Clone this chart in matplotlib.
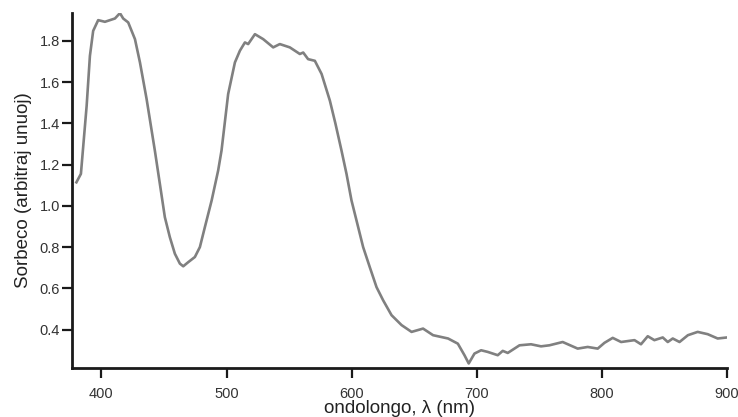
import numpy as np
import matplotlib
matplotlib.use('Agg')
import matplotlib.pyplot as plt

plt.rcParams['font.family'] = ['Liberation Sans', 'DejaVu Sans']

# ondolongo (nm) kaj sorbeco, legitaj de la bildo
wavelength = [380, 383.6, 388.2, 390.8, 393.4, 397.4, 402.8, 406.8, 410.8, 414.8, 417.4,
              421.4, 426.8, 430.8, 436.1, 442.7, 446.7, 450.7, 454.7, 458.7, 462.7,
              465.4, 469.4, 474.7, 478.7, 482.7, 488.1, 493.3, 496, 501.3, 506.7, 510.7,
              514.7, 517.3, 522.7, 529.3, 537.3, 542.6, 550.6, 558.6, 561.3, 565.2,
              570.6, 576, 582.6, 587, 591.9, 595.9, 599.9, 603.9, 609.2, 614.5, 619.9,
              625.2, 631.9, 639.9, 647.9, 657.1, 665.1, 677.1, 684.9, 690.2, 693.6,
              698.2, 703.5, 708.8, 716.8, 720.8, 724.8, 734.2, 743.4, 751.4, 758.1,
              768.7, 780.7, 788.7, 796.7, 802.1, 808.7, 815.4, 826.1, 831.3, 836.7, 842,
              848.7, 852.7, 856.7, 862.1, 868.8, 876.6, 884.6, 892.6, 900]
absorbance = [1.114, 1.155, 1.486, 1.727, 1.848, 1.90, 1.892, 1.90, 1.908, 1.934, 1.908,
              1.889, 1.808, 1.695, 1.518, 1.268, 1.107, 0.945, 0.848, 0.768, 0.72,
              0.707, 0.727, 0.752, 0.80, 0.897, 1.026, 1.171, 1.268, 1.542, 1.695, 1.752,
              1.792, 1.784, 1.832, 1.808, 1.768, 1.784, 1.768, 1.736, 1.743, 1.711,
              1.703, 1.639, 1.51, 1.40, 1.268, 1.155, 1.026, 0.929, 0.80, 0.703, 0.606,
              0.542, 0.47, 0.422, 0.389, 0.405, 0.373, 0.357, 0.332, 0.276, 0.236,
              0.284, 0.30, 0.292, 0.276, 0.297, 0.287, 0.324, 0.329, 0.319, 0.324,
              0.34, 0.308, 0.316, 0.308, 0.336, 0.36, 0.34, 0.349, 0.329, 0.368, 0.349,
              0.362, 0.34, 0.357, 0.34, 0.373, 0.389, 0.378, 0.357, 0.362]
xticks = [400, 500, 600, 700, 800, 900]
yticks = [0.4, 0.6, 0.8, 1.0, 1.2, 1.4, 1.6, 1.8]

fig = plt.figure(figsize=(7.38, 4.17), dpi=100)
ax = fig.add_axes([0.0976, 0.1175, 0.8874, 0.8515])
ax.plot(wavelength, absorbance, color='#808080', lw=1.9, solid_joinstyle='round')

ax.set_xlim(376.5, 900)
ax.set_ylim(0.214, 1.935)
ax.set_xticks(xticks)
ax.set_yticks(yticks)
ax.set_yticklabels(['%.1f' % v for v in yticks])

for s in ['top', 'right']:
    ax.spines[s].set_visible(False)
for s in ['left', 'bottom']:
    ax.spines[s].set_linewidth(2.0)
    ax.spines[s].set_color('#1a1a1a')
ax.tick_params(direction='out', length=7, width=1.6, color='#1a1a1a',
               labelsize=10.5, labelcolor='#333333')
ax.tick_params(axis='y', pad=1.5)
ax.tick_params(axis='x', pad=7)

ax.set_xlabel('ondolongo, λ (nm)', fontsize=13.5, color='#222222', labelpad=-1)
ax.set_ylabel('Sorbeco (arbitraj unuoj)', fontsize=13.5, color='#222222', labelpad=6)

fig.savefig('out.png', dpi=100)
